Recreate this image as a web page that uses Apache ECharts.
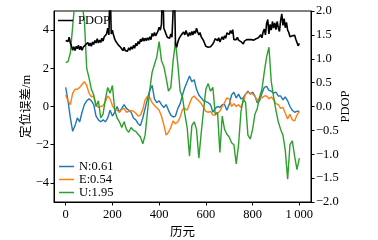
<!DOCTYPE html>
<html>
<head>
<meta charset="utf-8">
<script src="https://cdn.jsdelivr.net/npm/echarts@6/dist/echarts.min.js"></script>
<style>
  html, body { margin: 0; padding: 0; background: #fff; }
  #chart { width: 378px; height: 240px; }
</style>
</head>
<body>
<div id="chart"></div>
<script>
// values
var xTicks = [0, 200, 400, 600, 800, 1000];
var leftTicks = [-4, -2, 0, 2, 4];
var rightTicks = [-2, -1.5, -1, -0.5, 0, 0.5, 1, 1.5, 2];
var names = ['N:0.61', 'E:0.54', 'U:1.95'];

// N/E/U sampled every 10 epochs, 0..1000
var nErr = [1.0, 0.3, -0.6, -1.3, -1.0, -0.6, -0.8, -0.3, 0.1, 0.3,
  0.4, 0.3, 0.1, -0.5, -0.7, -0.8, -0.7, -0.8, -0.6, -0.2,
  -0.5, -0.3, 0.0, -0.3, -0.1, 0.1, -0.1, -0.2, -0.3, -0.6,
  -0.7, -0.9, -1.0, -0.6, -0.1, 0.4, 0.85, 1.1, 0.4, 0.2,
  0.3, 0.1, -0.05, 0.1, -0.2, -0.45, -0.55, -0.5, -0.1, 0.15,
  0.6, 1.0, 1.3, 1.6, 1.3, 1.4, 0.9, 0.6, 0.45, 0.3,
  0.25, 0.2, 0.1, -0.3, -0.1, 0.0, -0.05, 0.1, 0.1, -0.2,
  0.1, 0.6, 0.75, 0.45, 0.65, 0.4, 0.45, 0.65, 0.8, 0.65,
  0.75, 0.55, 0.2, 0.3, 0.7, 1.0, 1.05, 0.85, 0.8, 0.7,
  0.75, 0.55, 0.55, 0.35, 0.5, 0.3, 0.0, -0.2, -0.3, -0.25,
  -0.25];
var eErr = [0.6, 0.3, 0.1, 0.7, 0.9, 0.9, 1.0, 1.15, 1.3, 1.1,
  0.7, 0.5, 0.55, 0.1, -0.05, 0.0, 0.05, 0.25, 0.55, 0.4,
  0.05, -0.15, -0.2, -0.3, -0.15, -0.1, -0.3, -0.25, -0.2, -0.25,
  -0.35, -0.5, -0.45, -0.15, 0.35, 0.55, 0.47, 0.2, 0.05, -0.05,
  -0.2, -0.5, -0.95, -1.5, -1.35, -1.1, -0.75, -0.9, -0.8, -0.55,
  -0.15, -0.1, -0.2, 0.15, 0.45, 0.55, 0.4, 0.3, 0.15, -0.05,
  -0.25, -0.3, -0.25, -0.45, -0.45, -0.35, -0.25, 0.0, 0.2, 0.45,
  0.4, 0.0, 0.15, 0.0, 0.1, -0.05, 0.25, 0.65, 0.75, 0.7,
  0.65, 0.55, 0.3, 0.45, 0.45, 0.55, 0.55, 0.4, 0.5, 0.35,
  0.15, 0.1, -0.1, -0.05, -0.35, -0.65, -0.4, -0.7, -0.75, -0.45,
  -0.25];
var uErr = [2.3, 2.35, 2.8, 4.2, 5.6, 6.0, 5.8, 5.4, 4.5, 2.0,
  1.5, 0.9, 0.6, 0.0, 0.3, -0.6, -0.4, 0.4, 1.0, 0.7,
  1.1, -0.2, -0.6, -0.8, -1.1, -0.8, -1.2, -1.35, -1.1, -1.25,
  -1.3, -1.45, -1.6, -1.95, -1.5, -0.3, 0.9, 1.8, 2.2, 2.6,
  3.4, 2.4, 2.1, 1.5, 0.8, 1.0, 2.4, 3.4, 2.2, 0.8,
  0.5, -0.4, -1.1, -2.6, -1.0, -0.8, -1.2, -2.7, -1.4, -0.2,
  0.9, 1.2, 0.8, 1.0, -0.4, -0.3, -2.4, -0.5, -1.2, -1.45,
  -1.6, -1.9, -2.0, -3.0, -2.0, -0.3, 0.4, 0.2, -1.5, -1.7,
  -1.2, -0.4, -0.1, 0.5, 0.9, 1.8, 2.6, 3.1, 1.3, 0.5,
  -0.2, -0.8, -1.2, -1.5, -2.3, -3.8, -2.0, -1.8, -2.6, -3.3,
  -2.7];
// PDOP sampled every 5 epochs, 0..1000
var pdop = [1.38, 1.42, 1.36, 1.45, 1.33, 1.26, 1.18, 1.25, 1.17, 1.26,
  1.21, 1.28, 1.19, 1.26, 1.18, 1.24, 1.20, 1.29, 1.25, 1.34,
  1.27, 1.33, 1.26, 1.35, 1.30, 1.38, 1.33, 1.42, 1.33, 1.39,
  1.34, 1.43, 1.37, 1.46, 1.42, 1.52, 1.64, 1.50, 2.60, 1.52,
  1.60, 1.49, 1.41, 1.36, 1.38, 1.29, 1.33, 1.24, 1.22, 1.17,
  1.24, 1.17, 1.21, 1.16, 1.23, 1.18, 1.25, 1.20, 1.28, 1.22,
  1.32, 1.27, 1.36, 1.31, 1.41, 1.36, 1.44, 1.37, 1.43, 1.38,
  1.44, 1.39, 1.46, 1.40, 1.53, 1.47, 1.55, 1.48, 1.52, 1.58,
  1.66, 1.60, 1.72, 2.70, 1.64, 1.58, 1.51, 1.45, 1.49, 1.43,
  1.52, 1.45, 1.42, 2.60, 1.30, 1.24, 1.35, 1.42, 1.38, 1.50,
  1.46, 1.56, 1.50, 1.59, 1.52, 1.47, 1.55, 1.49, 1.57, 1.50,
  1.58, 1.53, 1.64, 1.56, 1.50, 1.55, 1.46, 1.43, 1.38, 1.32,
  1.26, 1.22, 1.24, 1.20, 1.25, 1.21, 1.31, 1.36, 1.42, 1.46,
  1.38, 1.44, 1.35, 1.41, 1.46, 1.40, 1.48, 1.43, 1.54, 1.58,
  1.51, 1.59, 1.53, 1.61, 1.40, 1.44, 1.40, 1.45, 1.39, 1.42,
  1.36, 1.33, 1.31, 1.37, 1.40, 1.40, 1.38, 1.40, 1.40, 1.40,
  1.41, 1.39, 1.40, 1.42, 1.40, 1.44, 1.47, 1.50, 1.44, 1.56,
  1.62, 1.50, 1.74, 1.82, 1.52, 1.72, 1.60, 1.78, 1.64, 1.75,
  1.61, 1.78, 1.65, 1.57, 1.80, 1.94, 1.70, 1.84, 1.65, 1.76,
  1.60, 1.55, 1.46, 1.43, 1.48, 1.44, 1.49, 1.41, 1.39, 1.27,
  1.32];

var colors = ['#1f77b4', '#ff7f0e', '#2ca02c'];
var serif = '"Liberation Serif", "DejaVu Serif", serif';
var cjk = '"Liberation Serif", "Noto Sans CJK SC", serif';

function pairs(step, arr) {
  return arr.map(function (v, i) { return [i * step, v]; });
}
function minus(v) {
  return String(v).replace('-', '\u2212');
}

var chart = echarts.init(document.getElementById('chart'), null, { renderer: 'canvas' });

var legendText = { fontFamily: serif, fontSize: 12.5, color: '#000' };

var option = {
  backgroundColor: '#fff',
  animation: false,
  grid: {
    left: 54, right: 67, top: 11, bottom: 38,
    outerBoundsMode: 'none',
    show: true, borderColor: '#000', borderWidth: 1
  },
  legend: [{
    data: ['PDOP'],
    left: 58, top: 14, padding: 0,
    icon: 'rect', itemWidth: 15, itemHeight: 1.5,
    textStyle: legendText
  }, {
    data: names,
    orient: 'vertical',
    left: 59, top: 160, padding: 0,
    icon: 'rect', itemWidth: 15, itemHeight: 1.5, itemGap: 0,
    textStyle: legendText
  }],
  xAxis: {
    type: 'value',
    min: -50, max: 1050,
    name: '历元', nameLocation: 'middle', nameGap: 24, nameMoveOverlap: false,
    nameTextStyle: { fontFamily: cjk, fontSize: 12.5, color: '#000' },
    splitLine: { show: false },
    axisLine: { onZero: false, lineStyle: { color: '#000', width: 1 } },
    axisTick: { customValues: xTicks, length: 3.5, lineStyle: { color: '#000' } },
    axisLabel: {
      customValues: xTicks, margin: 6,
      fontFamily: serif, fontSize: 12.5, color: '#000',
      formatter: function (v) { return v === 1000 ? '1\u2009000' : String(v); }
    }
  },
  yAxis: [{
    type: 'value',
    min: -5, max: 5,
    name: '定位误差/m', nameLocation: 'middle', nameGap: 21, nameMoveOverlap: false,
    nameTextStyle: { fontFamily: cjk, fontSize: 12.5, color: '#000' },
    splitLine: { show: false },
    axisLine: { show: true, onZero: false, lineStyle: { color: '#000', width: 1 } },
    axisTick: { customValues: leftTicks, length: 3.5, lineStyle: { color: '#000' } },
    axisLabel: {
      customValues: leftTicks, margin: 5,
      fontFamily: serif, fontSize: 12.5, color: '#000',
      formatter: minus
    }
  }, {
    type: 'value',
    position: 'right',
    min: -2, max: 2,
    name: 'PDOP', nameLocation: 'middle', nameGap: 28, nameRotate: 90, nameMoveOverlap: false,
    nameTextStyle: { fontFamily: serif, fontSize: 12.5, color: '#000' },
    splitLine: { show: false },
    axisLine: { show: true, onZero: false, lineStyle: { color: '#000', width: 1 } },
    axisTick: { customValues: rightTicks, length: 3.5, lineStyle: { color: '#000' } },
    axisLabel: {
      customValues: rightTicks, margin: 5,
      fontFamily: serif, fontSize: 12.5, color: '#000',
      formatter: function (v) { return minus(v.toFixed(1)); }
    }
  }],
  series: [{
    name: names[0], type: 'line', yAxisIndex: 0, data: pairs(10, nErr),
    showSymbol: false, symbol: 'none', color: colors[0], lineStyle: { width: 1.4 }
  }, {
    name: names[1], type: 'line', yAxisIndex: 0, data: pairs(10, eErr),
    showSymbol: false, symbol: 'none', color: colors[1], lineStyle: { width: 1.4 }
  }, {
    name: names[2], type: 'line', yAxisIndex: 0, data: pairs(10, uErr),
    showSymbol: false, symbol: 'none', color: colors[2], lineStyle: { width: 1.4 }
  }, {
    name: 'PDOP', type: 'line', yAxisIndex: 1, data: pairs(5, pdop),
    showSymbol: false, symbol: 'none', color: '#000', lineStyle: { width: 1.6 }
  }]
};
chart.setOption(option);
</script>
</body>
</html>
